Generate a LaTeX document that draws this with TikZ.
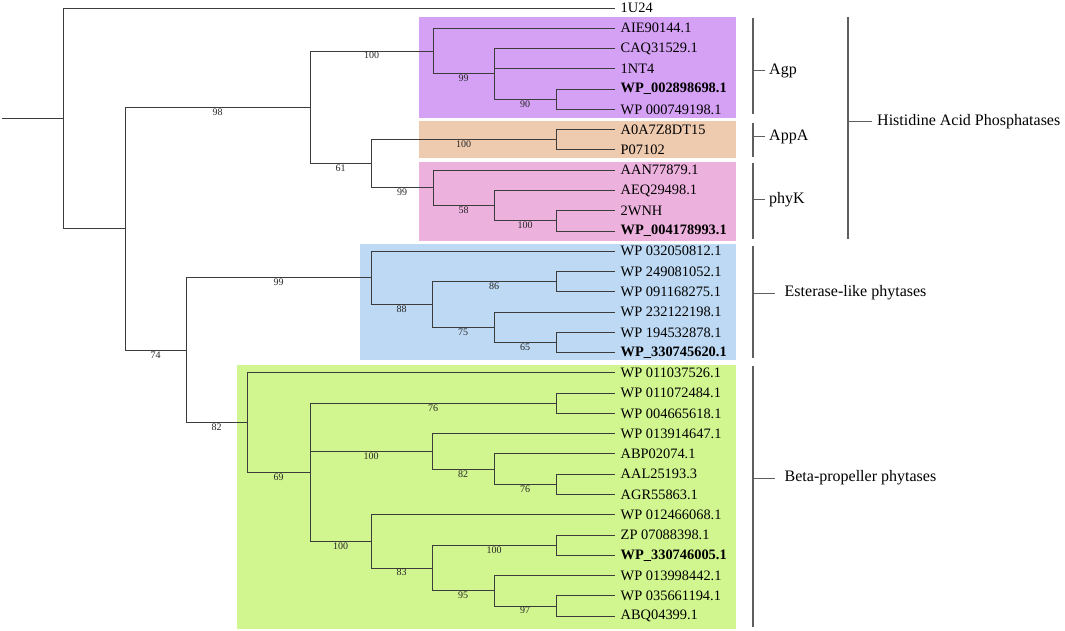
\documentclass[tikz,border=0pt]{standalone}
\usepackage{fontspec}
\setmainfont{Liberation Serif}
\definecolor{cAgp}{RGB}{213,161,245}
\definecolor{cAppA}{RGB}{238,202,174}
\definecolor{cPhyK}{RGB}{237,177,222}
\definecolor{cEst}{RGB}{189,217,243}
\definecolor{cBeta}{RGB}{209,246,143}
\definecolor{cLine}{RGB}{60,60,60}
\definecolor{cBrk}{RGB}{95,95,95}
\tikzset{
  tree/.style={draw=cLine, line width=0.9pt},
  leaf/.style={anchor=west, inner xsep=5.5pt, inner ysep=0pt, font=\fontsize{14.4}{14.4}\selectfont},
  bleaf/.style={leaf, font=\fontsize{14.4}{14.4}\selectfont\bfseries},
  bs/.style={below, inner sep=0.8pt, font=\fontsize{10}{10}\selectfont, text=black!85},
  brk/.style={draw=cBrk, line width=1.3pt},
  grp/.style={anchor=west, inner xsep=4pt, inner ysep=0pt, font=\fontsize{16}{16}\selectfont},
}
\newcommand\tbranch[3]{\draw[tree] (#1) |- (#2) node[bs,pos=0.75]{#3};}
\begin{document}
\begin{tikzpicture}[x=1pt,y=-1pt]
\useasboundingbox (0,0) rectangle (1065,631);
% coloured boxes
\fill[cAgp]  (419,17)  rectangle (736,118);
\fill[cAppA] (419,121) rectangle (736,158);
\fill[cPhyK] (419,162) rectangle (736,241);
\fill[cEst]  (360,244) rectangle (736,360);
\fill[cBeta] (237,365) rectangle (736,629);
% leaves
\def\lx{615}
\node[leaf]  (l0)  at (\lx,8.00)   {1U24};
\node[leaf]  (l1)  at (\lx,28.27)  {AIE90144.1};
\node[leaf]  (l2)  at (\lx,48.54)  {CAQ31529.1};
\node[leaf]  (l3)  at (\lx,68.81)  {1NT4};
\node[bleaf] (l4)  at (\lx,89.08)  {WP\_002898698.1};
\node[leaf]  (l5)  at (\lx,109.35) {WP 000749198.1};
\node[leaf]  (l6)  at (\lx,129.62) {A0A7Z8DT15};
\node[leaf]  (l7)  at (\lx,149.89) {P07102};
\node[leaf]  (l8)  at (\lx,170.16) {AAN77879.1};
\node[leaf]  (l9)  at (\lx,190.43) {AEQ29498.1};
\node[leaf]  (l10) at (\lx,210.70) {2WNH};
\node[bleaf] (l11) at (\lx,230.97) {WP\_004178993.1};
\node[leaf]  (l12) at (\lx,251.24) {WP 032050812.1};
\node[leaf]  (l13) at (\lx,271.51) {WP 249081052.1};
\node[leaf]  (l14) at (\lx,291.78) {WP 091168275.1};
\node[leaf]  (l15) at (\lx,312.05) {WP 232122198.1};
\node[leaf]  (l16) at (\lx,332.32) {WP 194532878.1};
\node[bleaf] (l17) at (\lx,352.59) {WP\_330745620.1};
\node[leaf]  (l18) at (\lx,372.86) {WP 011037526.1};
\node[leaf]  (l19) at (\lx,393.13) {WP 011072484.1};
\node[leaf]  (l20) at (\lx,413.40) {WP 004665618.1};
\node[leaf]  (l21) at (\lx,433.67) {WP 013914647.1};
\node[leaf]  (l22) at (\lx,453.94) {ABP02074.1};
\node[leaf]  (l23) at (\lx,474.21) {AAL25193.3};
\node[leaf]  (l24) at (\lx,494.48) {AGR55863.1};
\node[leaf]  (l25) at (\lx,514.75) {WP 012466068.1};
\node[leaf]  (l26) at (\lx,535.02) {ZP 07088398.1};
\node[bleaf] (l27) at (\lx,555.29) {WP\_330746005.1};
\node[leaf]  (l28) at (\lx,575.56) {WP 013998442.1};
\node[leaf]  (l29) at (\lx,595.83) {WP 035661194.1};
\node[leaf]  (l30) at (\lx,616.10) {ABQ04399.1};
% internal nodes
\coordinate (start) at (2,118.4);
\coordinate (root) at (63,118.4);
\coordinate (A)    at (125,228.9);
\coordinate (HAP)  at (310,107.5);
\coordinate (Agp)  at (433,51.1);
\coordinate (D)    at (494,73.9);
\coordinate (E)    at (556,99.2);
\coordinate (C)    at (371,163.8);
\coordinate (AppA) at (556,139.75);
\coordinate (F)    at (433,187.9);
\coordinate (G)    at (494,205.6);
\coordinate (H2)   at (556,220.8);
\coordinate (B)    at (186,350.2);
\coordinate (Est)  at (371,277.8);
\coordinate (H)    at (432,304.4);
\coordinate (I)    at (556,281.6);
\coordinate (J)    at (494,327.3);
\coordinate (K)    at (556,342.5);
\coordinate (Beta) at (247,422.6);
\coordinate (L)    at (310,472.3);
\coordinate (M)    at (556,403.3);
\coordinate (N)    at (432,451.4);
\coordinate (P)    at (494,469.1);
\coordinate (Q)    at (556,484.3);
\coordinate (O)    at (371,541.4);
\coordinate (Rn)   at (432,568.0);
\coordinate (S)    at (556,545.2);
\coordinate (T)    at (494,590.8);
\coordinate (U)    at (556,606.0);
% tree
\draw[tree] (start) -- (root);
\tbranch{root}{l0.west}{}
\tbranch{root}{A}{}
\tbranch{A}{HAP}{98}
\tbranch{A}{B}{74}
\tbranch{HAP}{Agp}{100}
\tbranch{HAP}{C}{61}
\tbranch{Agp}{l1.west}{}
\tbranch{Agp}{D}{99}
\tbranch{D}{l2.west}{}
\tbranch{D}{l3.west}{}
\tbranch{D}{E}{90}
\tbranch{E}{l4.west}{}
\tbranch{E}{l5.west}{}
\tbranch{C}{AppA}{100}
\tbranch{C}{F}{99}
\tbranch{AppA}{l6.west}{}
\tbranch{AppA}{l7.west}{}
\tbranch{F}{l8.west}{}
\tbranch{F}{G}{58}
\tbranch{G}{l9.west}{}
\tbranch{G}{H2}{100}
\tbranch{H2}{l10.west}{}
\tbranch{H2}{l11.west}{}
\tbranch{B}{Est}{99}
\tbranch{B}{Beta}{82}
\tbranch{Est}{l12.west}{}
\tbranch{Est}{H}{88}
\tbranch{H}{I}{86}
\tbranch{H}{J}{75}
\tbranch{I}{l13.west}{}
\tbranch{I}{l14.west}{}
\tbranch{J}{l15.west}{}
\tbranch{J}{K}{65}
\tbranch{K}{l16.west}{}
\tbranch{K}{l17.west}{}
\tbranch{Beta}{l18.west}{}
\tbranch{Beta}{L}{69}
\tbranch{L}{M}{76}
\tbranch{L}{N}{100}
\tbranch{L}{O}{100}
\tbranch{M}{l19.west}{}
\tbranch{M}{l20.west}{}
\tbranch{N}{l21.west}{}
\tbranch{N}{P}{82}
\tbranch{P}{l22.west}{}
\tbranch{P}{Q}{76}
\tbranch{Q}{l23.west}{}
\tbranch{Q}{l24.west}{}
\tbranch{O}{l25.west}{}
\tbranch{O}{Rn}{83}
\tbranch{Rn}{S}{100}
\tbranch{Rn}{T}{95}
\tbranch{S}{l26.west}{}
\tbranch{S}{l27.west}{}
\tbranch{T}{l28.west}{}
\tbranch{T}{U}{97}
\tbranch{U}{l29.west}{}
\tbranch{U}{l30.west}{}
% group brackets
\draw[brk] (753,18) -- (753,114);
\draw[brk] (753,123) -- (753,157);
\draw[brk] (753,163) -- (753,239);
\draw[brk] (753,246) -- (753,358);
\draw[brk] (753,366) -- (753,627);
\draw[brk] (848,17) -- (848,239);
\coordinate (tAgp)  at (753,71);
\coordinate (tAppA) at (753,137);
\coordinate (tPhyK) at (753,200);
\coordinate (tEst)  at (753,293);
\coordinate (tBeta) at (753,478);
\coordinate (tHAP)  at (848,122);
\node[grp] (gAgp)  at (765,71)  {Agp};
\node[grp] (gAppA) at (765,137) {AppA};
\node[grp] (gPhyK) at (765,200) {phyK};
\node[grp, inner xsep=9.5pt] (gEst)  at (775,293) {Esterase-like phytases};
\node[grp, inner xsep=9.5pt] (gBeta) at (775,478) {Beta-propeller phytases};
\node[grp, inner xsep=5pt] (gHAP)  at (872,122) {Histidine Acid Phosphatases};
\draw[brk, line width=1pt] (tAgp) -- (gAgp.west);
\draw[brk, line width=1pt] (tAppA) -- (gAppA.west);
\draw[brk, line width=1pt] (tPhyK) -- (gPhyK.west);
\draw[brk, line width=1pt] (tEst) -- (gEst.west);
\draw[brk, line width=1pt] (tBeta) -- (gBeta.west);
\draw[brk, line width=1pt] (tHAP) -- (gHAP.west);
\end{tikzpicture}
\end{document}
